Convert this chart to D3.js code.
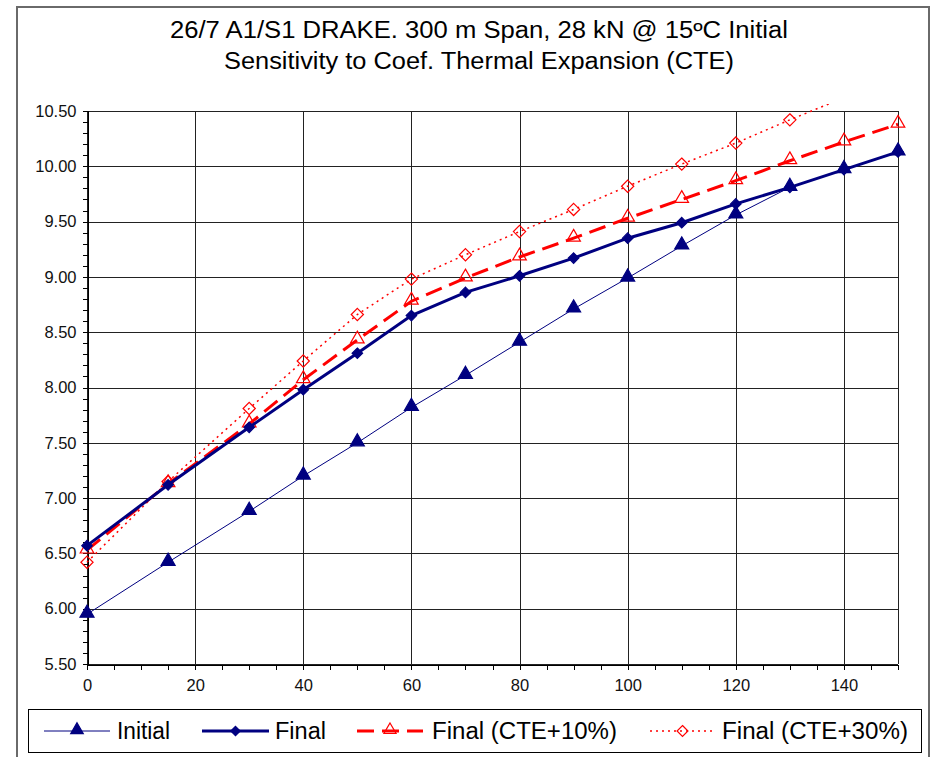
<!DOCTYPE html>
<html><head><meta charset="utf-8">
<script src="https://cdn.jsdelivr.net/npm/d3@7"></script>
<style>body{margin:0;background:#fff}svg{display:block;font-family:"Liberation Sans",Arial,sans-serif}</style>
</head><body>
<svg id="c" width="932" height="757"></svg>
<script>
const titleLines = ["26/7 A1/S1 DRAKE. 300 m Span, 28 kN @ 15ºC Initial", "Sensitivity to Coef. Thermal Expansion (CTE)"];
const xValues = [0, 15, 30, 40, 50, 60, 70, 80, 90, 100, 110, 120, 130, 140, 150];
const initialVals = [5.95, 6.42, 6.88, 7.20, 7.50, 7.82, 8.11, 8.41, 8.71, 8.99, 9.28, 9.56, 9.81, 9.97, 10.13];
const finalVals = [6.57, 7.12, 7.64, 7.98, 8.31, 8.65, 8.86, 9.01, 9.17, 9.35, 9.49, 9.66, 9.81, 9.97, 10.13];
const cte10Vals = [6.53, 7.13, 7.67, 8.07, 8.43, 8.78, 8.99, 9.18, 9.35, 9.53, 9.70, 9.87, 10.05, 10.22, 10.38];
const cte30Vals = [6.42, 7.15, 7.81, 8.24, 8.66, 8.98, 9.20, 9.41, 9.61, 9.82, 10.02, 10.21, 10.42, 10.62, 10.82];
const seriesNames = ["Initial", "Final", "Final (CTE+10%)", "Final (CTE+30%)"];
const xTicks = [0, 20, 40, 60, 80, 100, 120, 140];
const yTicks = [5.5, 6.0, 6.5, 7.0, 7.5, 8.0, 8.5, 9.0, 9.5, 10.0, 10.5];

const svg = d3.select("#c");
const L = 87, R = 898, T = 111, B = 664;
const x = d3.scaleLinear().domain([0, 150]).range([L, R]);
const y = d3.scaleLinear().domain([5.5, 10.5]).range([B, T]);

// outer frame
svg.append("rect").attr("x", 17).attr("y", 7).attr("width", 912).attr("height", 760)
  .attr("fill", "none").attr("stroke", "#6a6a6a").attr("stroke-width", 2);

// title
const titleW = [618, 510];
svg.append("g").selectAll("text").data(titleLines).join("text")
  .attr("x", 479).attr("y", (d, i) => 38 + i * 31).attr("text-anchor", "middle")
  .attr("font-size", 23).attr("fill", "#000")
  .attr("textLength", (d, i) => titleW[i]).attr("lengthAdjust", "spacingAndGlyphs").text(d => d);

// grid
const grid = svg.append("g").attr("stroke", "#222").attr("stroke-width", 1).attr("shape-rendering", "crispEdges");
grid.selectAll(".h").data(yTicks).join("line").attr("x1", L).attr("x2", R)
  .attr("y1", d => Math.round(y(d)) + 0.5).attr("y2", d => Math.round(y(d)) + 0.5);
grid.selectAll(".v").data(xTicks.concat([150])).join("line").attr("y1", T).attr("y2", B)
  .attr("x1", d => Math.round(x(d)) + 0.5).attr("x2", d => Math.round(x(d)) + 0.5);

// axes
const yAxis = d3.axisLeft(y).tickValues(yTicks).tickFormat(d3.format(".2f")).tickSize(5).tickPadding(6);
svg.append("g").attr("transform", `translate(${L + 0.5},0)`).call(yAxis);
const yMinor = d3.axisLeft(y).tickValues(d3.range(55, 106).map(v => v / 10)).tickFormat("").tickSize(5);
svg.append("g").attr("transform", `translate(${L + 0.5},0)`).call(yMinor).select(".domain").remove();
const xAxis = d3.axisBottom(x).tickValues(xTicks).tickSize(5).tickPadding(10);
svg.append("g").attr("transform", `translate(0,${B + 0.5})`).call(xAxis);
const xMinor = d3.axisBottom(x).tickValues(d3.range(0, 151, 5)).tickFormat("").tickSize(5);
svg.append("g").attr("transform", `translate(0,${B + 0.5})`).call(xMinor).select(".domain").remove();
svg.selectAll(".tick text").attr("font-size", 16.5).attr("font-family", '"Liberation Sans",Arial,sans-serif').attr("fill", "#111");
svg.selectAll(".domain, .tick line").attr("stroke", "#000").attr("shape-rendering", "crispEdges");

// clip
svg.append("clipPath").attr("id", "clip").append("rect")
  .attr("x", L - 10).attr("y", T - 7).attr("width", R - L + 20).attr("height", B - T + 17);

const series = [
  {name: seriesNames[0], vals: initialVals, color: "#000080", width: 1, dash: null, marker: "tri", fill: true},
  {name: seriesNames[1], vals: finalVals, color: "#000080", width: 3, dash: null, marker: "dia", fill: true},
  {name: seriesNames[2], vals: cte10Vals, color: "#ff0000", width: 3, dash: "17,8", marker: "tri", fill: false},
  {name: seriesNames[3], vals: cte30Vals, color: "#ff0000", width: 1.5, dash: "2,4", marker: "dia", fill: false}
];
const line = d3.line().x(d => x(d[0])).y(d => y(d[1]));
const triSym = d3.symbol().type(d3.symbolTriangle);
const diaSym = d3.symbol().type(d3.symbolDiamond2);

function drawMarker(g, s, cx, cy, scale) {
  const k = scale || 1;
  const sym = s.marker === "tri" ? triSym.size((s.fill ? 85 : 80) * k)() : diaSym.size((s.fill ? 70 : 95) * k)();
  g.append("path").attr("d", sym).attr("transform", `translate(${cx},${cy - (s.marker === "tri" ? 1 : 0)})`)
    .attr("fill", s.fill ? s.color : "none").attr("stroke", s.color).attr("stroke-width", 1.2);
}

const plot = svg.append("g");
series.slice().reverse().forEach(s => {
  const pts = xValues.map((xv, i) => [xv, s.vals[i]]);
  plot.append("path").attr("d", line(pts)).attr("fill", "none").attr("stroke", s.color)
    .attr("stroke-width", s.width).attr("stroke-dasharray", s.dash).attr("clip-path", "url(#clip)");
  const mg = plot.append("g");
  pts.filter(p => p[1] <= 10.5).forEach(p => drawMarker(mg, s, x(p[0]), y(p[1])));
});

// legend
svg.append("rect").attr("x", 28.5).attr("y", 709.5).attr("width", 893).attr("height", 43)
  .attr("fill", "#fff").attr("stroke", "#000").attr("stroke-width", 1);
const legX = [[44, 110, 117, 53], [202, 269, 275, 51], [357, 423, 432, 185], [650, 715, 722, 186]];
const lg = svg.append("g");
series.forEach((s, i) => {
  const [a, b, t, w] = legX[i];
  const ly = 731;
  lg.append("line").attr("x1", a).attr("x2", b).attr("y1", ly).attr("y2", ly).attr("stroke", s.color)
    .attr("stroke-width", s.width).attr("stroke-dasharray", s.dash);
  drawMarker(lg, s, (a + b) / 2, ly, 0.8);
  lg.append("text").attr("x", t).attr("y", ly + 8).attr("font-size", 23.5).attr("fill", "#000")
    .attr("textLength", w).attr("lengthAdjust", "spacingAndGlyphs").text(s.name);
});
</script>
</body></html>
